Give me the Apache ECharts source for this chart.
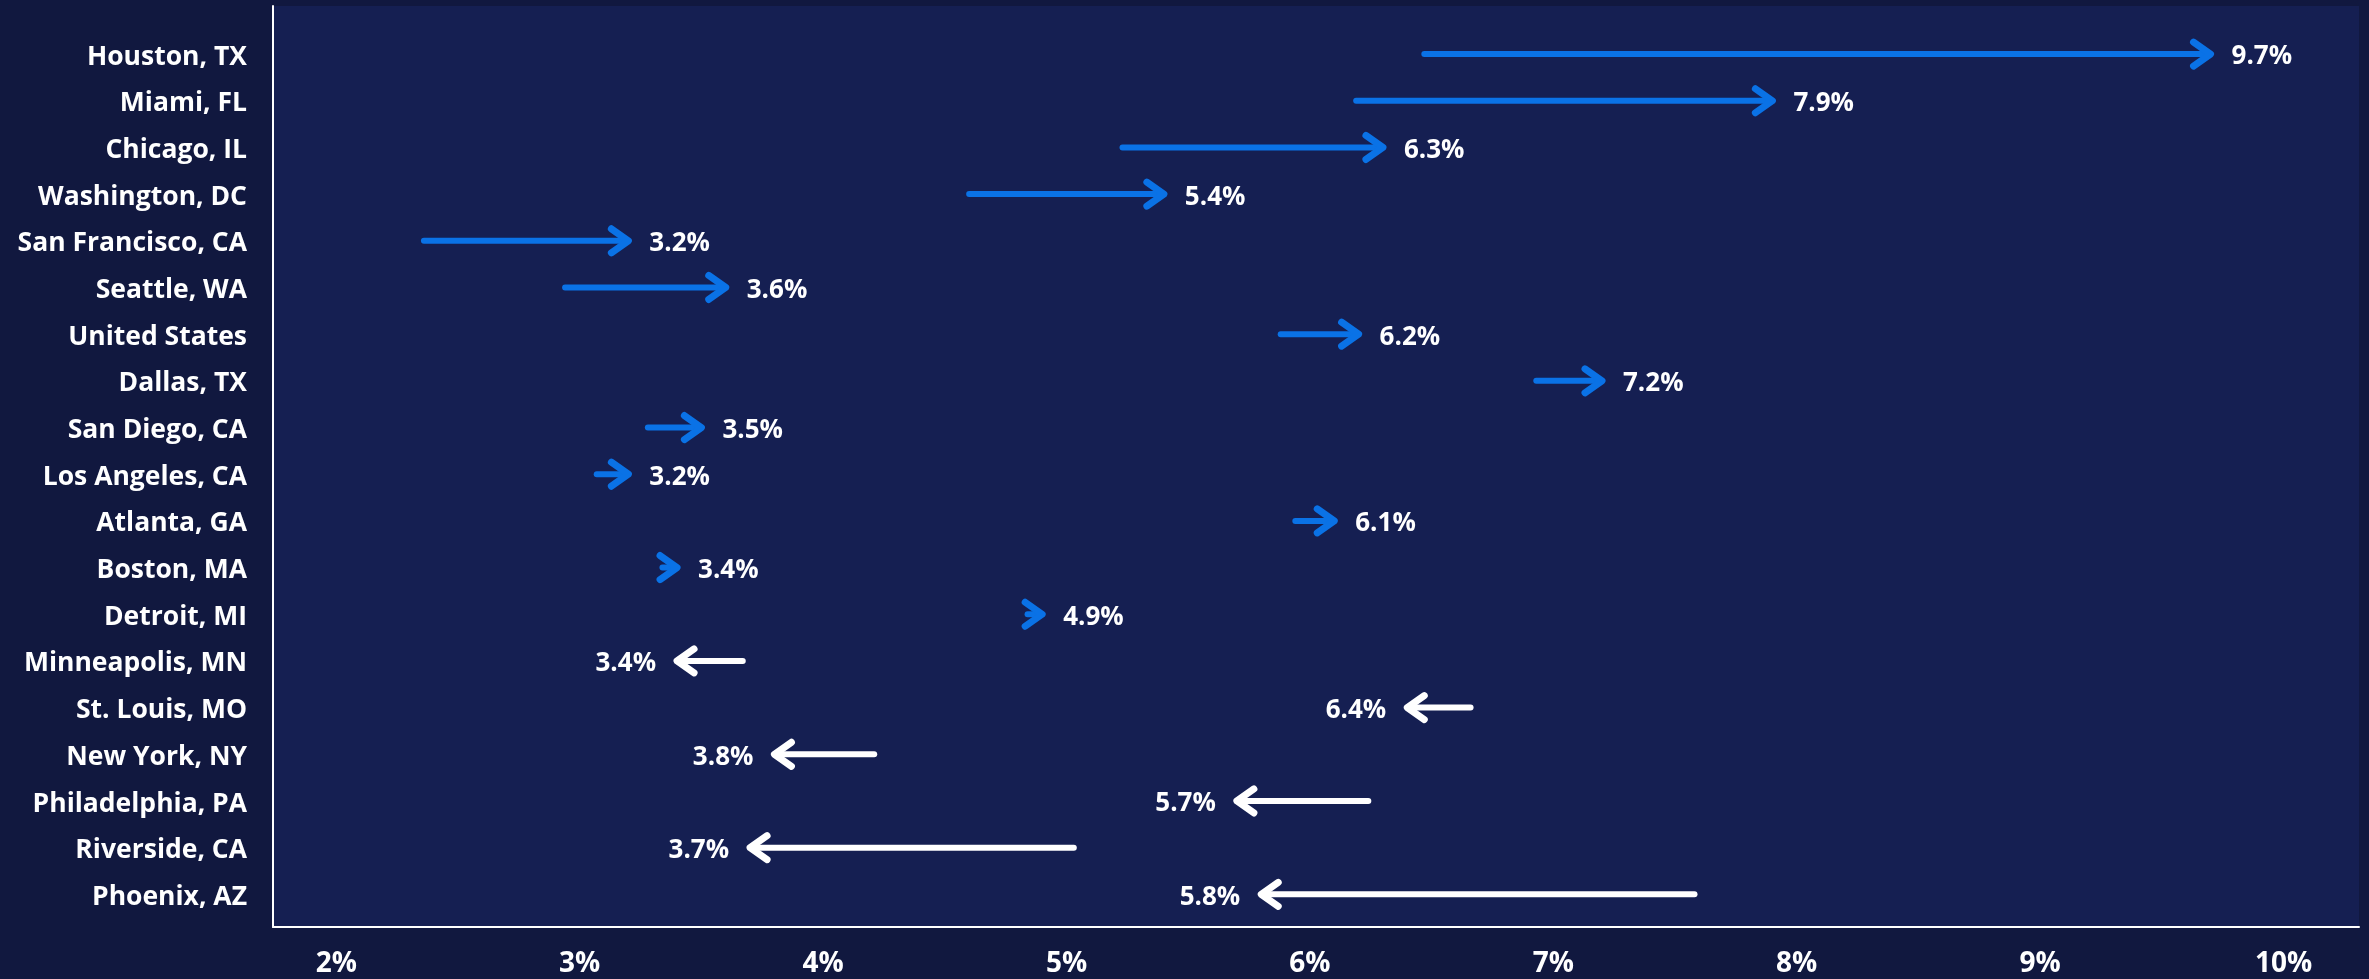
<!DOCTYPE html>
<html>
<head>
<meta charset="utf-8">
<title>Metro change arrows</title>
<script src="https://cdn.jsdelivr.net/npm/echarts@6/dist/echarts.min.js"></script>
<style>
  html, body { margin: 0; padding: 0; background: #11183f; }
  #chart { width: 2369px; height: 979px; }
</style>
</head>
<body>
<div id="chart"></div>
<script>
// Metro areas, top to bottom
const cities = [
  'Houston, TX', 'Miami, FL', 'Chicago, IL', 'Washington, DC', 'San Francisco, CA',
  'Seattle, WA', 'United States', 'Dallas, TX', 'San Diego, CA', 'Los Angeles, CA',
  'Atlanta, GA', 'Boston, MA', 'Detroit, MI', 'Minneapolis, MN', 'St. Louis, MO',
  'New York, NY', 'Philadelphia, PA', 'Riverside, CA', 'Phoenix, AZ'
];
// Earlier rate (%) where each arrow starts
const startValues = [
  6.47, 6.19, 5.23, 4.60, 2.36,
  2.94, 5.88, 6.93, 3.28, 3.07,
  5.94, 3.34, 4.84, 3.67, 6.66,
  4.21, 6.24, 5.03, 7.58
];
// Latest rate (%) where each arrow points
const endValues = [
  9.7, 7.9, 6.3, 5.4, 3.2,
  3.6, 6.2, 7.2, 3.5, 3.2,
  6.1, 3.4, 4.9, 3.4, 6.4,
  3.8, 5.7, 3.7, 5.8
];
// Tick labels on the rate axis
const xTicks = [2, 3, 4, 5, 6, 7, 8, 9, 10];

const UP_COLOR = '#0a72e6';
const DOWN_COLOR = '#ffffff';
const FONT = '"Open Sans", Lato, sans-serif';

const seriesData = cities.map((c, i) => [startValues[i], endValues[i], i]);

const chart = echarts.init(document.getElementById('chart'), null, { renderer: 'canvas' });

chart.setOption({
  backgroundColor: '#11183f',
  animation: false,
  grid: {
    left: 273, right: 10, top: 6, bottom: 52,
    show: true, backgroundColor: '#151f52', borderWidth: 0
  },
  xAxis: {
    type: 'value',
    min: 1.74, max: 10.31,
    splitLine: { show: false },
    axisTick: { show: false },
    axisLine: { show: true, onZero: false, lineStyle: { color: '#ffffff', width: 2 } },
    axisLabel: {
      customValues: xTicks,
      formatter: v => v + '%',
      color: '#ffffff', fontFamily: FONT, fontWeight: 'bold', fontSize: 28,
      margin: 23
    }
  },
  yAxis: {
    type: 'value',
    inverse: true,
    min: -1.03, max: 18.70,
    splitLine: { show: false },
    axisTick: { show: false },
    axisLine: { show: true, onZero: false, lineStyle: { color: '#ffffff', width: 2 } },
    axisLabel: {
      customValues: cities.map((c, i) => i),
      formatter: v => '{city|' + cities[Math.round(v)] + '}',
      margin: 26,
      rich: {
        city: {
          color: '#ffffff', fontFamily: FONT, fontWeight: 'bold', fontSize: 26.5,
          padding: [6, 0, 0, 0]
        }
      }
    }
  },
  series: [{
    type: 'custom',
    coordinateSystem: 'cartesian2d',
    encode: { x: [0, 1], y: 2 },
    data: seriesData,
    renderItem: function (params, api) {
      const s = api.coord([api.value(0), api.value(2)]);
      const e = api.coord([api.value(1), api.value(2)]);
      const dir = e[0] >= s[0] ? 1 : -1;
      const color = dir > 0 ? UP_COLOR : DOWN_COLOR;
      const label = api.value(1).toFixed(1) + '%';
      return {
        type: 'group',
        children: [
          {
            type: 'line',
            shape: { x1: s[0], y1: s[1], x2: e[0] - dir * 2, y2: e[1] },
            style: { stroke: color, lineWidth: 6, lineCap: 'round' }
          },
          {
            type: 'polyline',
            shape: { points: [[e[0] - dir * 17, e[1] - 12], [e[0], e[1]], [e[0] - dir * 17, e[1] + 12]] },
            style: { stroke: color, fill: null, lineWidth: 7, lineCap: 'round', lineJoin: 'round' }
          },
          {
            type: 'text',
            x: e[0] + dir * 21,
            y: e[1] + 3,
            style: {
              text: label,
              fill: '#ffffff',
              font: 'bold 26px ' + FONT,
              align: dir > 0 ? 'left' : 'right',
              verticalAlign: 'middle'
            }
          }
        ]
      };
    }
  }]
});
</script>
</body>
</html>
